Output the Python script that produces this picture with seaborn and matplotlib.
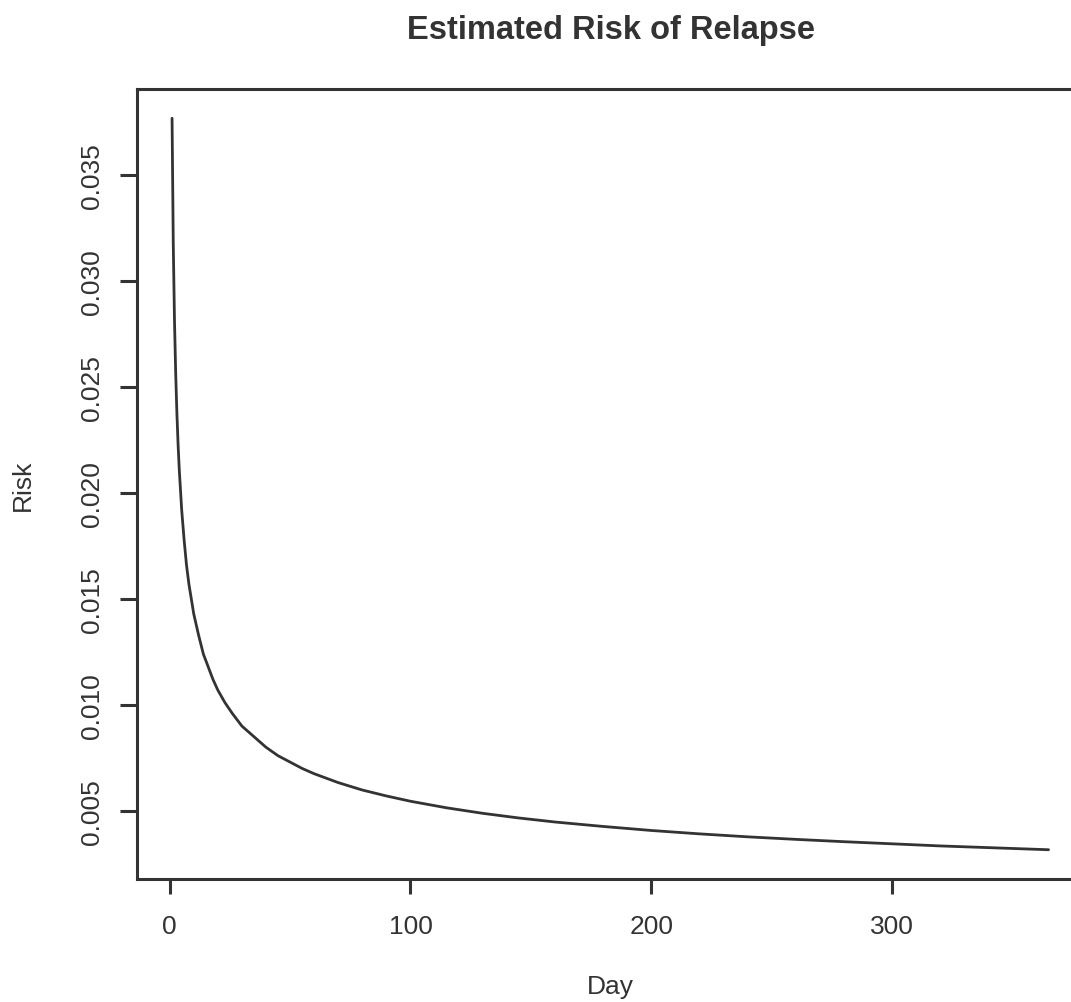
import matplotlib
matplotlib.use("Agg")
import matplotlib.pyplot as plt
import seaborn as sns
import pandas as pd

# ---- data ----
days = [1, 1.5, 2, 2.5, 3, 3.5, 4, 5, 6, 7, 8, 9, 10, 12, 14, 16, 18, 20,
        23, 26, 30, 35, 40, 45, 50, 55, 60, 70, 80, 90, 100, 115, 130, 145,
        160, 180, 200, 220, 240, 260, 280, 300, 320, 340, 365]
risk = [0.0377, 0.0318, 0.0282, 0.0257, 0.0238, 0.0223, 0.0211, 0.0192,
        0.0178, 0.0166, 0.0157, 0.0150, 0.0143, 0.0133, 0.0124, 0.0118,
        0.0112, 0.0107, 0.0101, 0.0096, 0.0090, 0.0085, 0.0080, 0.0076,
        0.0073, 0.0070, 0.00675, 0.00633, 0.00598, 0.00570, 0.00545,
        0.00514, 0.00488, 0.00466, 0.00447, 0.00426, 0.00407, 0.00391,
        0.00377, 0.00365, 0.00354, 0.00344, 0.00334, 0.00326, 0.00316]
x_ticks = [0, 100, 200, 300]
y_ticks = [0.005, 0.010, 0.015, 0.020, 0.025, 0.030, 0.035]
y_tick_labels = ["0.005", "0.010", "0.015", "0.020", "0.025", "0.030", "0.035"]
title = "Estimated Risk of Relapse"
x_label = "Day"
y_label = "Risk"

sns.set_theme(style="white")
plt.rcParams["font.family"] = ["Liberation Sans", "DejaVu Sans"]

INK = "#333333"
W, H = 1071, 1003
fig = plt.figure(figsize=(W / 100, H / 100), dpi=100)
fig.patch.set_facecolor("white")

left_px, right_px, top_px, bottom_px = 137, 1083.6, 90, 880
ax = fig.add_axes([left_px / W, (H - bottom_px) / H,
                   (right_px - left_px) / W, (bottom_px - top_px) / H])
ax.set_facecolor("white")

df = pd.DataFrame({"Day": days, "Risk": risk})
sns.lineplot(data=df, x="Day", y="Risk", ax=ax, color=INK, linewidth=2.0,
             estimator=None, sort=False)

# R-style 4% axis expansion
xr = max(days) - min(days)
ax.set_xlim(min(days) - 0.04 * xr, max(days) + 0.04 * xr)
yr = max(risk) - min(risk)
ax.set_ylim(min(risk) - 0.04 * yr, max(risk) + 0.04 * yr)

ax.set_xticks(x_ticks)
ax.set_xticklabels([str(t) for t in x_ticks])
ax.set_yticks(y_ticks)
ax.set_yticklabels(y_tick_labels)

for sp in ax.spines.values():
    sp.set_visible(True)
    sp.set_color(INK)
    sp.set_linewidth(2.2)

ax.tick_params(axis="x", direction="out", length=10.8, width=2.2, color=INK,
               labelsize=19, labelcolor=INK, pad=14.5, bottom=True)
ax.tick_params(axis="y", direction="out", length=12.2, width=2.2, color=INK,
               labelsize=19, labelcolor=INK, pad=11.5, left=True)
for lab in ax.get_yticklabels():
    lab.set_rotation(90)
    lab.set_va("center")

ax.set_xlabel(x_label, fontsize=19, color=INK)
ax.xaxis.label.set_va("center")
ax.xaxis.set_label_coords(0.5, -(987 - bottom_px) / (bottom_px - top_px))
ax.set_ylabel(y_label, fontsize=19, color=INK)
ax.yaxis.label.set_va("center")
ax.yaxis.set_label_coords((23 - left_px) / (right_px - left_px), 0.5)

fig.text(611 / W, 1 - 31 / H, title, ha="center", va="center",
         fontsize=23.5, fontweight="bold", color=INK)

fig.savefig("out.png", dpi=100, facecolor="white")
